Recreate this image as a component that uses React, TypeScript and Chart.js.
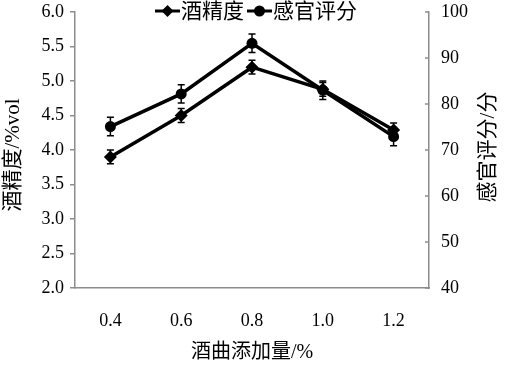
import React, { useEffect, useRef } from "react";
import { Chart, registerables } from "chart.js";
Chart.register(...registerables);

const categories = ["0.4", "0.6", "0.8", "1.0", "1.2"];
const alcohol = [3.9, 4.5, 5.2, 4.88, 4.29];
const alcoholErr = [0.1, 0.1, 0.1, 0.1, 0.1];
const sensory = [75.1, 82.2, 93.2, 83.0, 72.9];
const sensoryErr = [2, 2, 2, 2, 2];
const seriesNames = ["酒精度", "感官评分"];
const xTitle = "酒曲添加量/%";
const yTitle = "酒精度/%vol";
const y1Title = "感官评分/分";

const FONT = "'Liberation Serif', 'Noto Sans CJK SC', serif";
const AXIS = "#8c8c8c";

const errorBarPlugin = {
  id: "errorBars",
  beforeDatasetsDraw(chart: any) {
    const ctx = chart.ctx;
    chart.data.datasets.forEach((ds: any, di: number) => {
      const meta = chart.getDatasetMeta(di);
      const scale = chart.scales[ds.yAxisID];
      ctx.save();
      ctx.strokeStyle = "#000";
      ctx.lineWidth = 1.5;
      meta.data.forEach((pt: any, i: number) => {
        const v = ds.data[i];
        const e = ds.errors[i];
        const yTop = scale.getPixelForValue(v + e);
        const yBot = scale.getPixelForValue(v - e);
        ctx.beginPath();
        ctx.moveTo(pt.x, yTop);
        ctx.lineTo(pt.x, yBot);
        ctx.moveTo(pt.x - 3.5, yTop);
        ctx.lineTo(pt.x + 3.5, yTop);
        ctx.moveTo(pt.x - 3.5, yBot);
        ctx.lineTo(pt.x + 3.5, yBot);
        ctx.stroke();
      });
      ctx.restore();
    });
  },
  afterDraw(chart: any) {
    const ctx = chart.ctx;
    const area = chart.chartArea;
    const y1 = chart.scales.y1;
    ctx.save();
    ctx.strokeStyle = AXIS;
    ctx.lineWidth = 1.5;
    y1.ticks.forEach((t: any) => {
      const y = y1.getPixelForValue(t.value);
      ctx.beginPath();
      ctx.moveTo(area.right - 4, y);
      ctx.lineTo(area.right, y);
      ctx.stroke();
    });
    ctx.restore();

    ctx.save();
    ctx.fillStyle = "#000";
    ctx.font = `21px ${FONT}`;
    ctx.textAlign = "center";
    ctx.textBaseline = "middle";
    ctx.translate(13, 155);
    ctx.rotate(-Math.PI / 2);
    ctx.fillText(yTitle, 0, 0);
    ctx.restore();

    ctx.save();
    ctx.fillStyle = "#000";
    ctx.font = `21px ${FONT}`;
    ctx.textAlign = "center";
    ctx.textBaseline = "middle";
    ctx.translate(488, 147);
    ctx.rotate(-Math.PI / 2);
    ctx.fillText(y1Title, 0, 0);
    ctx.restore();

    ctx.save();
    ctx.font = `21px ${FONT}`;
    ctx.textBaseline = "middle";
    const w1 = ctx.measureText(seriesNames[0]).width;
    const w2 = ctx.measureText(seriesNames[1]).width;
    const lineW = 25;
    const total = lineW + 1 + w1 + 3 + lineW + 1 + w2;
    let x = 256 - total / 2;
    const y = 11;
    const drawItem = (style: string, text: string, w: number) => {
      ctx.strokeStyle = "#000";
      ctx.lineWidth = 3;
      ctx.beginPath();
      ctx.moveTo(x, y);
      ctx.lineTo(x + lineW, y);
      ctx.stroke();
      ctx.fillStyle = "#000";
      const cx = x + lineW / 2;
      ctx.beginPath();
      if (style === "diamond") {
        ctx.moveTo(cx, y - 6);
        ctx.lineTo(cx + 6, y);
        ctx.lineTo(cx, y + 6);
        ctx.lineTo(cx - 6, y);
        ctx.closePath();
      } else {
        ctx.arc(cx, y, 5.5, 0, Math.PI * 2);
      }
      ctx.fill();
      ctx.fillText(text, x + lineW + 1, y + 1);
      x += lineW + 1 + w + 3;
    };
    drawItem("diamond", seriesNames[0], w1);
    drawItem("circle", seriesNames[1], w2);
    ctx.restore();
  },
};

export default function App() {
  const ref = useRef<HTMLCanvasElement>(null);
  useEffect(() => {
    const chart = new Chart(ref.current!, {
      type: "line",
      data: {
        labels: categories,
        datasets: [
          {
            label: seriesNames[0],
            data: alcohol,
            errors: alcoholErr,
            yAxisID: "y",
            borderColor: "#000",
            backgroundColor: "#000",
            borderWidth: 3.5,
            pointStyle: "rectRot",
            pointRadius: 6.5,
            pointBorderWidth: 0,
          } as any,
          {
            label: seriesNames[1],
            data: sensory,
            errors: sensoryErr,
            yAxisID: "y1",
            borderColor: "#000",
            backgroundColor: "#000",
            borderWidth: 3.5,
            pointStyle: "circle",
            pointRadius: 5.5,
            pointBorderWidth: 0,
          } as any,
        ],
      },
      options: {
        responsive: false,
        animation: false,
        layout: { padding: { top: 12, left: 0, right: 0, bottom: 0 } },
        plugins: { legend: { display: false }, tooltip: { enabled: false } },
        scales: {
          x: {
            type: "category",
            offset: true,
            grid: { display: false },
            border: { display: true, color: AXIS, width: 1.5 },
            ticks: { color: "#000", font: { family: FONT, size: 18 }, padding: 14 },
            title: {
              display: true,
              text: xTitle,
              color: "#000",
              font: { family: FONT, size: 20 },
              padding: { top: 8 },
            },
            afterFit: (s: any) => {
              s.height = 81;
              s.paddingLeft = 0;
              s.paddingRight = 0;
            },
          },
          y: {
            position: "left",
            min: 2,
            max: 6,
            ticks: {
              stepSize: 0.5,
              color: "#000",
              font: { family: FONT, size: 18 },
              padding: 6,
              callback: (v: any) => Number(v).toFixed(1),
            },
            grid: { drawOnChartArea: false, tickLength: 5, color: AXIS, lineWidth: 1.5 },
            border: { color: AXIS, width: 1.5 },
            afterFit: (s: any) => {
              s.width = 75;
              s.paddingTop = 0;
              s.paddingBottom = 0;
            },
          },
          y1: {
            position: "right",
            min: 40,
            max: 100,
            ticks: {
              stepSize: 10,
              color: "#000",
              font: { family: FONT, size: 18 },
              padding: 4,
            },
            grid: { display: false },
            border: { color: AXIS, width: 1.5 },
            afterFit: (s: any) => {
              s.width = 76;
              s.paddingTop = 0;
              s.paddingBottom = 0;
            },
          },
        },
      } as any,
      plugins: [errorBarPlugin],
    });
    return () => chart.destroy();
  }, []);
  return (
    <div style={{ position: "fixed", left: 0, top: 0, width: 505, height: 369, background: "#fff" }}>
      <canvas ref={ref} width={505} height={369} />
    </div>
  );
}
